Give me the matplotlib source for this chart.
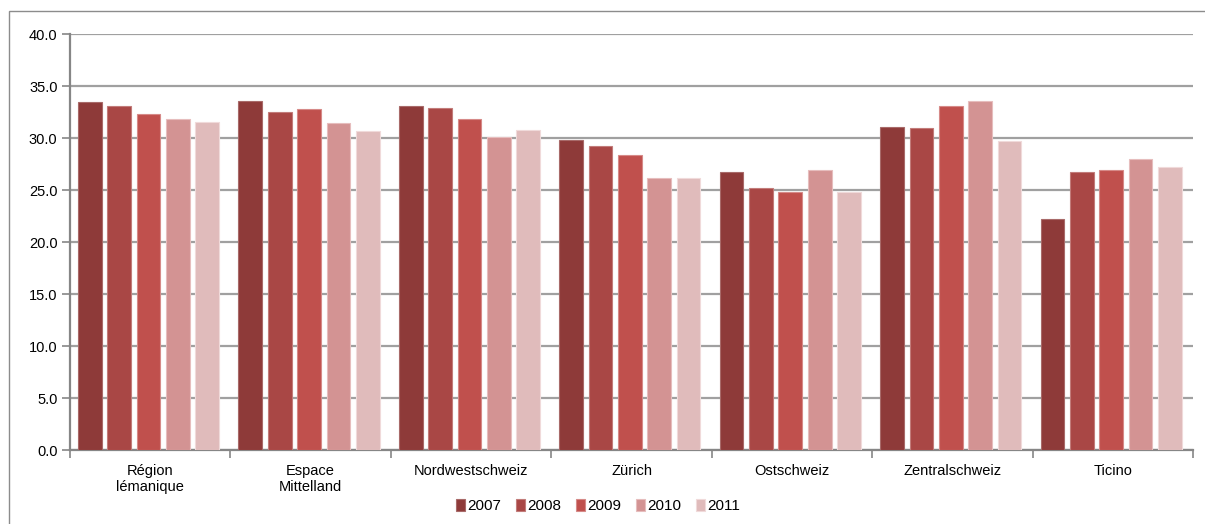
import matplotlib
matplotlib.use("Agg")
import matplotlib.pyplot as plt
from matplotlib.patches import Rectangle
import numpy as np

plt.rcParams['font.family'] = ['Liberation Sans Narrow', 'Liberation Sans', 'DejaVu Sans']

regions = ["Région\nlémanique", "Espace\nMittelland", "Nordwestschweiz", "Zürich",
           "Ostschweiz", "Zentralschweiz", "Ticino"]
years = ["2007", "2008", "2009", "2010", "2011"]
v2007 = [33.5, 33.6, 33.05, 29.8, 26.7, 31.1, 22.2]
v2008 = [33.05, 32.5, 32.9, 29.25, 25.2, 30.95, 26.7]
v2009 = [32.3, 32.75, 31.8, 28.4, 24.8, 33.05, 26.9]
v2010 = [31.8, 31.4, 30.1, 26.2, 26.9, 33.6, 28.0]
v2011 = [31.5, 30.7, 30.8, 26.2, 24.8, 29.7, 27.2]
series = [v2007, v2008, v2009, v2010, v2011]
colors = ["#8E3A39", "#A94745", "#C0504D", "#D39393", "#E0BBBB"]
edges = ["#A86A69", "#C27C7A", "#D68A88", "#E6BDBD", "#F0DADA"]

fig = plt.figure(figsize=(12.05, 5.24), dpi=100)
ax = fig.add_axes([70/1205, 1-450/524, (1193-70)/1205, (450-34)/524])

# outer chart frame
fig.patches.append(Rectangle((9/1205, -0.1), 1.2, 1-11/524+0.1, transform=fig.transFigure,
                             fill=False, edgecolor="#8C8C8C", linewidth=1.0, zorder=0))

x = np.arange(len(regions))
pitch = 0.183
width = 0.148
for i, (vals, c, e) in enumerate(zip(series, colors, edges)):
    ax.bar(x + (i - 2) * pitch - 0.01, vals, width, color=c, edgecolor=e, linewidth=0.8,
           label=years[i], zorder=3)

ax.set_xlim(-0.5, 6.5)
ax.set_ylim(0, 40)
ax.set_yticks(np.arange(0, 40.1, 5))
ax.set_yticklabels([f"{v:.1f}" for v in np.arange(0, 40.1, 5)], fontsize=10.5)
ax.yaxis.grid(True, color="#A0A0A0", linewidth=1.6, zorder=0)
ax.set_axisbelow(True)

ax.set_xticks(np.arange(-0.5, 6.6, 1))
ax.set_xticklabels([])
ax.set_xticks(x, minor=True)
ax.set_xticklabels(regions, minor=True, fontsize=10.5, linespacing=1.15)
ax.tick_params(axis='x', which='major', length=6, color="#868686", width=1.2, direction='out')
ax.tick_params(axis='x', which='minor', length=0, pad=10)
ax.tick_params(axis='y', length=6, color="#868686", width=1.2, pad=3)

for s in ["top", "right"]:
    ax.spines[s].set_visible(False)
for s in ["left", "bottom"]:
    ax.spines[s].set_color("#868686")
    ax.spines[s].set_linewidth(1.6)

leg = fig.legend(loc="center", bbox_to_anchor=(598/1205, 1-506/524), ncol=5, frameon=False,
                 fontsize=11, handlelength=0.55, handleheight=0.9, handletextpad=0.15,
                 columnspacing=1.0, borderaxespad=0)

fig.savefig("out.png", dpi=100)
